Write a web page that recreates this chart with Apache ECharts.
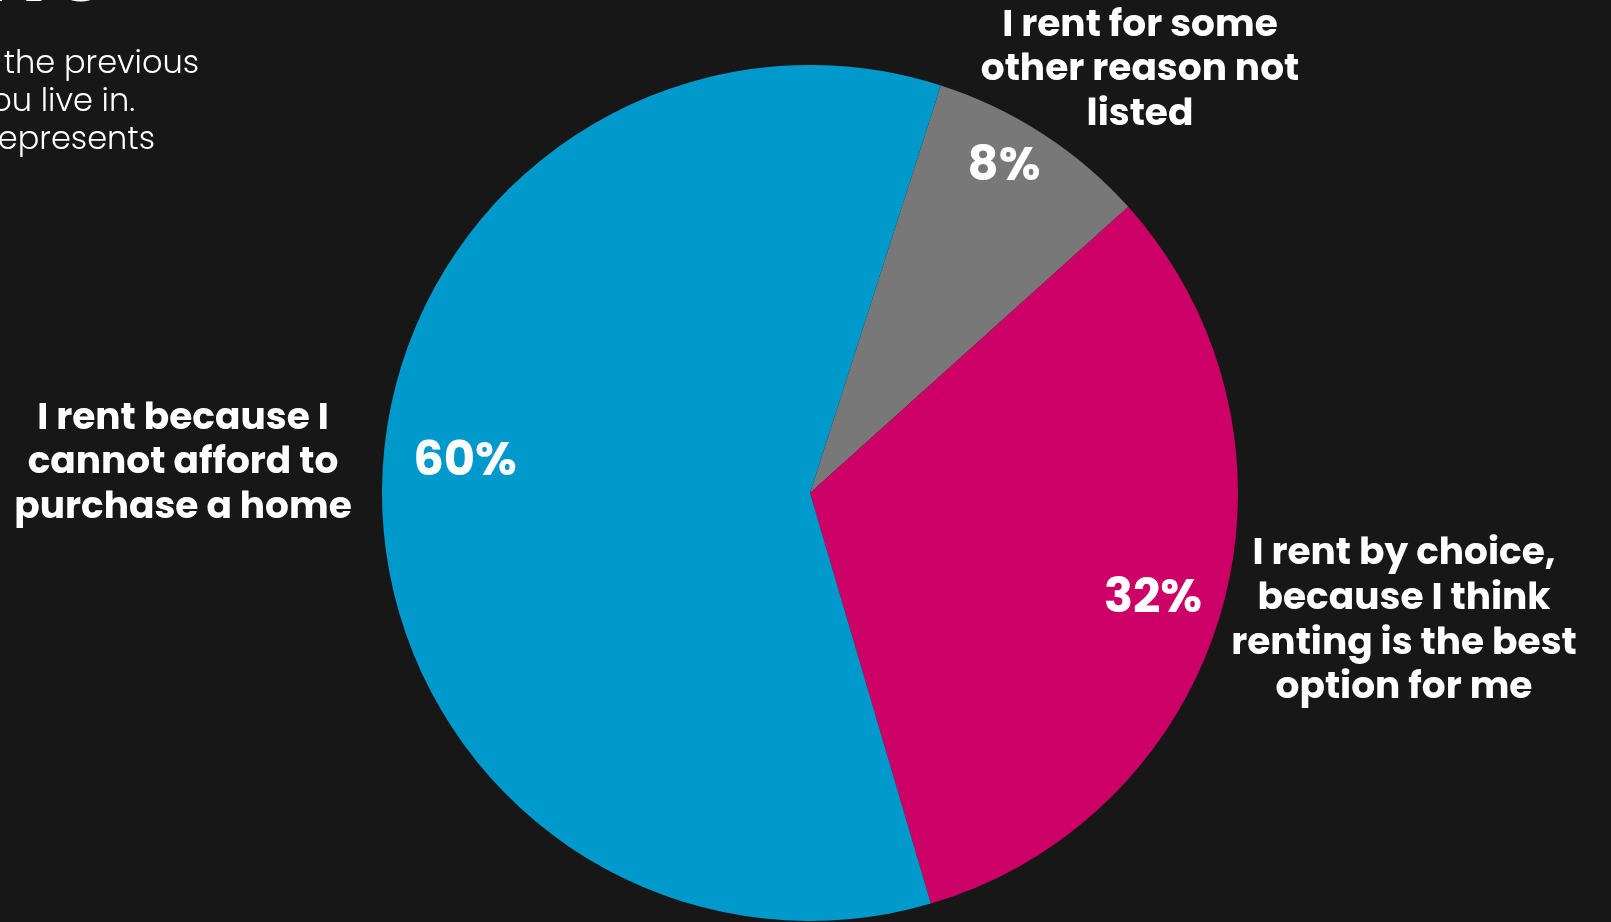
<!DOCTYPE html>
<html>
<head>
<meta charset="utf-8">
<script src="https://cdn.jsdelivr.net/npm/echarts@6/dist/echarts.min.js"></script>
<style>
html,body{margin:0;padding:0;background:#171717;overflow:hidden;}
#chart{width:1611px;height:922px;}
</style>
</head>
<body>
<div id="chart"></div>
<script>
// categories (clockwise order starting after the top-right)
var categories = [
  "I rent for some\nother reason not\nlisted",
  "I rent by choice,\nbecause I think\nrenting is the best\noption for me",
  "I rent because I\ncannot afford to\npurchase a home"
];
var values = [8.4, 32.1, 59.5];
var colors = ["#787878", "#CC0066", "#0099CC"];
var titleText = "NO";
var subtitleLines = ["in the previous", "you live in.", "represents"];

// layout (pixels)
var CX = 810, CY = 493, R = 428;
var nameLabelPos = [[1140, 71], [1404, 622], [183, 464]];
var pctLabelPos = [[1004, 168], [1153, 600], [465, 463]];

var FONT = "Poppins, Inter, 'Open Sans', sans-serif";

var chart = echarts.init(document.getElementById('chart'));
var data = categories.map(function (c, i) {
  return { name: c, value: values[i], itemStyle: { color: colors[i] } };
});
var ghost = categories.map(function (c, i) {
  return { name: c, value: values[i], itemStyle: { color: 'rgba(0,0,0,0)' } };
});

var graphics = [{
  type: 'text', left: -18, top: -64,
  style: { text: titleText, fill: '#ffffff', font: "bold 86px " + FONT }
}];
subtitleLines.forEach(function (t, i) {
  graphics.push({
    type: 'text', x: [199, 135, 155][i], y: 65 + i * 38,
    style: { text: t, fill: '#ffffff', font: "300 32px " + FONT, textAlign: 'right', textVerticalAlign: 'middle' }
  });
});

chart.setOption({
  backgroundColor: '#171717',
  animation: false,
  graphic: graphics,
  series: [{
    type: 'pie',
    center: [CX, CY],
    radius: [0, R],
    startAngle: 72.2,
    clockwise: true,
    silent: true,
    data: data,
    label: {
      show: true,
      position: 'inside',
      formatter: function (p) { return Math.round(p.percent) + '%'; },
      color: '#ffffff',
      fontFamily: FONT,
      fontWeight: 'bold',
      fontSize: 48
    },
    labelLine: { show: false },
    labelLayout: function (p) {
      var q = pctLabelPos[p.dataIndex];
      return { x: q[0], y: q[1], align: 'center', verticalAlign: 'middle' };
    }
  }, {
    type: 'pie',
    center: [CX, CY],
    radius: [0, R],
    startAngle: 72.2,
    clockwise: true,
    silent: true,
    data: ghost,
    label: {
      show: true,
      position: 'outside',
      formatter: '{b}',
      color: '#ffffff',
      fontFamily: FONT,
      fontWeight: 'bold',
      fontSize: 37.5,
      lineHeight: 44.7,
      align: 'center',
      overflow: 'none',
      width: 400
    },
    labelLine: { show: false },
    labelLayout: function (p) {
      var q = nameLabelPos[p.dataIndex];
      return { x: q[0], y: q[1], align: 'center', verticalAlign: 'middle' };
    }
  }]
});
</script>
</body>
</html>
